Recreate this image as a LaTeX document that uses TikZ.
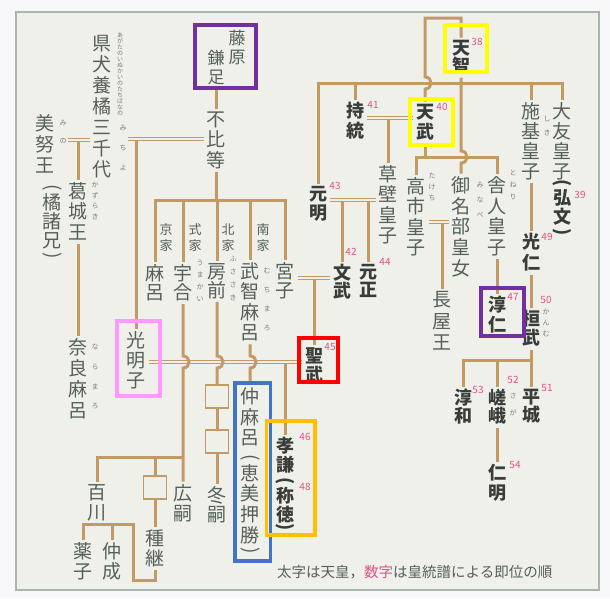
\documentclass[tikz,border=0pt]{standalone}
\usepackage{fontspec}
\usepackage{graphicx}
\newfontfamily\jp{Noto Sans CJK JP}
\usetikzlibrary{calc}
\definecolor{brn}{HTML}{C49A64}
\definecolor{bgin}{HTML}{F0F0EA}
\definecolor{bgout}{HTML}{F8F7FA}
\definecolor{frm}{HTML}{A9B6AE}
\definecolor{txt}{HTML}{55605A}
\definecolor{txtb}{HTML}{383D3A}
\definecolor{numpink}{HTML}{E2508A}
\definecolor{ylw}{HTML}{FFFF00}
\definecolor{prp}{HTML}{7030A0}
\definecolor{pnk}{HTML}{FF99FF}
\definecolor{rd}{HTML}{FF0000}
\definecolor{blu}{HTML}{4472C4}
\definecolor{org}{HTML}{FFC000}
% a vertical line jumping over a horizontal one
\newcommand\hop[1]{-- ($(#1)+(0,-6)$) .. controls ($(#1)+(8,-6)$) and ($(#1)+(8,6)$) .. ($(#1)+(0,6)$)}
% parentheses for vertical text
\newcommand\vlp{\rotatebox[origin=c]{-90}{(}}
\newcommand\vrp{\rotatebox[origin=c]{-90}{)}}

\begin{document}
\begin{tikzpicture}[x=1pt,y=-1pt,
  nm/.style={font=\jp\fontsize{19}{#1}\selectfont,text=txt,align=center,inner sep=0pt,outer sep=3pt,anchor=north,yshift=8.5pt,execute at begin node=\vphantom{国}},
  nm/.default=20.5,
  emp/.style={nm,font=\jp\bfseries\fontsize{18}{#1}\selectfont,text=txtb},
  emp/.default=19,
  rb/.style={font=\jp\fontsize{7}{#1}\selectfont,text=txt!80,align=center,inner sep=0pt,outer sep=1pt,anchor=north,yshift=3pt,execute at begin node=\vphantom{あ}},
  rb/.default=11,
  cl/.style={font=\jp\fontsize{13}{16}\selectfont,text=txt,align=center,inner sep=0pt,anchor=north,yshift=5.8pt,execute at begin node=\vphantom{国}},
  num/.style={font=\jp\fontsize{10}{10}\selectfont,text=numpink,inner sep=0pt},
  ln/.style={draw=brn,line width=3pt},
  mar/.style={draw=brn,double=bgin,double distance=1.8pt,line width=1.3pt},
  sq/.style={draw=brn,line width=1.6pt,fill=bgin,minimum size=23pt,inner sep=0pt},
  hl/.style={draw=#1,line width=3.5pt}]
  \fill[bgout] (0,0) rectangle (610,598);
  \draw[frm,fill=bgin,line width=1.2pt] (16,12) rectangle (599,590);

  % Fujiwara side
  \node[nm=18.5,font=\jp\fontsize{17}{18.5}\selectfont] (fujiwara) at (237,36) {藤\\原};
  \node[nm=18.5,font=\jp\fontsize{17}{18.5}\selectfont] (kamatari) at (216,56) {鎌\\足};
  \node[nm] (fuhito) at (216,117) {不\\比\\等};
  \node[nm=21] (michiyo) at (102,41) {県\\犬\\養\\橘\\三\\千\\代};
  \node[nm=21] (minoo) at (45,120) {美\\努\\王};
  \node[nm=19] (moroe) at (52,190) {\vlp\\[-3pt]橘\\諸\\兄\\[-5pt]\vrp};
  \node[nm] (kazuraki) at (78,188) {葛\\城\\王};
  \node[nm=21] (naramaro) at (78,344) {奈\\良\\麻\\呂};
  \node[nm=20] (komyo) at (136,337) {光\\明\\子};
  \node[nm=19] (maro) at (155,270) {麻\\呂};
  \node[nm=19] (umakai) at (183,270) {宇\\合};
  \node[nm=19] (fusasaki) at (217,269) {房\\前};
  \node[nm] (muchimaro) at (250,268) {武\\智\\麻\\呂};
  \node[nm=19] (miyako) at (285,268) {宮\\子};
  \node[nm=20.7] (nakamaro) at (250,393) {仲\\麻\\呂\\[-2pt]\vlp\\[-4pt]恵\\美\\押\\勝\\[-6pt]\vrp};
  \node[nm=20] (momokawa) at (97,490) {百\\川};
  \node[nm=20] (tanetsugu) at (155,535) {種\\継};
  \node[nm=20] (hirotsugu) at (183,490) {広\\嗣};
  \node[nm=19] (fuyutsugu) at (217,492) {冬\\嗣};
  \node[nm=20] (kusuko) at (83,548) {薬\\子};
  \node[nm=20] (nakanari) at (112,548) {仲\\成};
  \node[cl] (kyoke) at (166,229) {京\\家};
  \node[cl] (shikike) at (195,229) {式\\家};
  \node[cl] (hokke) at (228,229) {北\\家};
  \node[cl] (nanke) at (263,229) {南\\家};
  \node[sq] (tbox) at (155,487.5) {};
  \node[sq] (fbox1) at (217,396.5) {};
  \node[sq] (fbox2) at (217,441.5) {};

  % imperial side
  \node[nm] (kusakabe) at (388,171) {草\\壁\\皇\\子};
  \node[nm] (takechi) at (416,183) {高\\市\\皇\\子};
  \node[nm=20.7] (minabe) at (461,182) {御\\名\\部\\皇\\女};
  \node[nm=20.7] (toneri) at (497,182) {舎\\人\\皇\\子};
  \node[nm=21.5] (nagaya) at (442,297) {長\\屋\\王};
  \node[nm=20] (shiki) at (531,108) {施\\基\\皇\\子};
  \node[nm=20] (otomo) at (562,108) {大\\友\\皇\\子};
  \node[emp=18] (tenji) at (461,46) {天\\智};
  \node[emp=20] (tenmu) at (425,110) {天\\武};
  \node[emp=20] (jito) at (355,108) {持\\統};
  \node[emp] (genmei) at (318,192) {元\\明};
  \node[emp=18] (monmu) at (342,270) {文\\武};
  \node[emp=18] (gensho) at (368,270) {元\\正};
  \node[emp] (shomu) at (314,353) {聖\\武};
  \node[emp=18.5] (koken) at (285,443) {孝\\謙\\[-3pt]\vlp\\[-2.5pt]称\\徳\\[-7pt]\vrp};
  \node[emp] (kobun) at (562,185) {\vlp\\[-3pt]弘\\文\\[-5pt]\vrp};
  \node[emp=20] (junnin) at (497,302) {淳\\仁};
  \node[emp=21] (konin) at (531,239) {光\\仁};
  \node[emp] (kanmu) at (531,316) {桓\\武};
  \node[emp=18] (junna) at (463,395) {淳\\和};
  \node[emp=18] (saga) at (497,395) {嵯\\峨};
  \node[emp=18] (heizei) at (531,395) {平\\城};
  \node[emp=20] (ninmyo) at (497,470) {仁\\明};

  % readings
  \node[rb=6,font=\jp\fontsize{6}{6}\selectfont] (rmichiyoa) at (120,35) {あ\\が\\た\\の\\い\\ぬ\\か\\い\\の\\た\\ち\\ば\\な\\の};
  \node[rb=20] (rmichiyob) at (123,127) {み\\ち\\よ};
  \node[rb=18] (rminoo) at (63,122) {み\\の};
  \node[rb=10.7] (rkazuraki) at (95,184) {か\\ず\\ら\\き};
  \node[rb=19.7] (rnaramaro) at (95,346) {な\\ら\\ま\\ろ};
  \node[rb=12] (rumakai) at (200,262) {う\\ま\\か\\い};
  \node[rb=13] (rfusasaki) at (233,258) {ふ\\さ\\さ\\き};
  \node[rb=19] (rmuchimaro) at (267,270) {む\\ち\\ま\\ろ};
  \node[rb=11] (rtakechi) at (432,175) {た\\け\\ち};
  \node[rb=15] (rminabe) at (480,184) {み\\な\\べ};
  \node[rb=12] (rtoneri) at (513,172) {と\\ね\\り};
  \node[rb=14] (rshiki) at (547,118) {し\\き};
  \node[rb=11] (rkanmu) at (546,311) {か\\ん\\む};
  \node[rb=17] (rsaga) at (513,395) {さ\\が};

  % reign numbers
  \node[num] (n38) at (477,42) {38};
  \node[num] (n39) at (580,195) {39};
  \node[num] (n40) at (442,107) {40};
  \node[num] (n41) at (373,105) {41};
  \node[num] (n42) at (351,252) {42};
  \node[num] (n43) at (335,186) {43};
  \node[num] (n44) at (385,262) {44};
  \node[num] (n45) at (330,347) {45};
  \node[num] (n46) at (305,437) {46};
  \node[num] (n47) at (513,297) {47};
  \node[num] (n48) at (305,487) {48};
  \node[num] (n49) at (547,237) {49};
  \node[num] (n50) at (546,300) {50};
  \node[num] (n51) at (547,388) {51};
  \node[num] (n52) at (513,380) {52};
  \node[num] (n53) at (478,390) {53};
  \node[num] (n54) at (515,465) {54};
  \node[font=\jp\fontsize{14.5}{15}\selectfont,text=txt,anchor=west,inner sep=0pt] (note) at (277,572) {太字は天皇，{\color{numpink}数字}は皇統譜による即位の順};

  \coordinate (m1) at (78,140);
  \coordinate (m2) at (136,139);
  \coordinate (fbar) at (216,200);
  \coordinate (m3) at (388,118);
  \coordinate (m4) at (355,200);
  \coordinate (m5) at (442,222);
  \coordinate (m6) at (314,278);
  \coordinate (m7) at (285,362);
  \coordinate (ttop) at (425,18);
  \coordinate (tbar) at (461,83);
  \coordinate (mbar) at (425,157);
  \coordinate (ubar) at (183,457);
  \coordinate (kbar) at (133,524);
  \coordinate (tbot) at (155,580);
  \coordinate (hbar) at (531,360);

  % descent lines
  \draw[ln] (kamatari.south) -- (fuhito.north);
  \draw[ln] (fuhito.south) -- (fuhito |- fbar);
  \draw[ln] (maro.north) |- (miyako |- fbar) -- (miyako.north);
  \foreach \c in {umakai,fusasaki,muchimaro} \draw[ln] (\c |- fbar) -- (\c.north);
  \draw[ln] (kazuraki |- m1) -- (kazuraki.north);
  \draw[ln] (kazuraki.south) -- (naramaro.north);
  \draw[ln] (komyo |- m2) -- (komyo.north);
  \draw[ln] (koken |- m7) -- (koken.north);
  \draw[ln] (shomu |- m6) -- (shomu.north);
  \draw[ln] (momokawa.north) |- (ubar);
  \draw[ln] (tanetsugu |- ubar) -- (tbox.north);
  \draw[ln] (tbox.south) -- (tanetsugu.north);
  \draw[ln] (kusuko.north) |- (kbar) -- (kbar |- tbot) -- (tbot) -- (tanetsugu.south);
  \draw[ln] (nakanari |- kbar) -- (nakanari.north);
  \draw[ln] (fbox1.south) -- (fbox2.north);
  \draw[ln] (fbox2.south) -- (fuyutsugu.north);
  \draw[ln] (genmei.north) |- (otomo |- tbar) -- (otomo.north);
  \foreach \c in {jito,shiki} \draw[ln] (\c |- tbar) -- (\c.north);
  \draw[ln] (tenmu.south) -- (mbar);
  \draw[ln] (takechi.north) |- (toneri |- mbar) -- (toneri.north);
  \draw[ln] (kusakabe |- m3) -- (kusakabe.north);
  \foreach \c in {monmu,gensho} \draw[ln] (\c |- m4) -- (\c.north);
  \draw[ln] (nagaya |- m5) -- (nagaya.north);
  \draw[ln] (toneri.south) -- (junnin.north);
  \draw[ln] (shiki.south) -- (konin.north);
  \draw[ln] (konin.south) -- (kanmu.north);
  \draw[ln] (kanmu.south) -- (heizei.north);
  \draw[ln] (junna.north) |- (hbar);
  \draw[ln] (saga |- hbar) -- (saga.north);
  \draw[ln] (saga.south) -- (ninmyo.north);

  % marriages
  \draw[mar] (rminoo.east |- m1) -- (michiyo.west |- m1);
  \draw[mar] (rmichiyob.east |- m2) -- (fuhito.west |- m2);
  \draw[mar] (jito.east |- m3) -- (tenmu.west |- m3);
  \draw[mar] (genmei.east |- m4) -- (kusakabe.west |- m4);
  \draw[mar] (takechi.east |- m5) -- (minabe.west |- m5);
  \draw[mar] (miyako.east |- m6) -- (monmu.west |- m6);
  \draw[mar] (komyo.east |- m7) -- (shomu.west |- m7);

  % lines jumping over others
  \draw[ln] (umakai.south) \hop{umakai |- m7} -- (hirotsugu.north);
  \draw[ln] (fusasaki.south) \hop{fusasaki |- m7} -- (fbox1.north);
  \draw[ln] (muchimaro.south) \hop{muchimaro |- m7} -- (nakamaro.north);
  \draw[ln] (tenji.north) |- (ttop) \hop{ttop |- tbar} -- (tenmu.north);
  \draw[ln] (tenji.south) \hop{tenji |- mbar} -- (minabe.north);

  % highlight frames
  \draw[hl=prp] (195,25) rectangle (256,88);
  \draw[hl=ylw] (445,25) rectangle (487,72);
  \draw[hl=ylw] (410,99) rectangle (453,145);
  \draw[hl=pnk] (117,321) rectangle (160,396);
  \draw[hl=rd] (299,338) rectangle (338,382);
  \draw[hl=prp] (481,288) rectangle (524,336);
  \draw[hl=blu] (235,383) rectangle (270.5,561);
  \draw[hl=org] (266.5,421) rectangle (315,535);
\end{tikzpicture}
\end{document}
